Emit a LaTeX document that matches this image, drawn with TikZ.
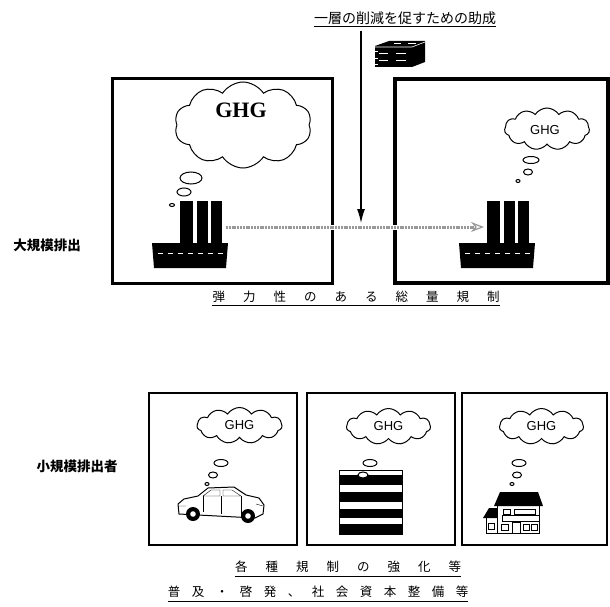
\documentclass[tikz,border=0pt]{standalone}
\usepackage{fontspec}
\setmainfont{Liberation Sans}
\newfontfamily\jp{Noto Sans CJK JP}
\newfontfamily\ghgserif{Liberation Serif}
\usetikzlibrary{shapes.symbols,shapes.geometric,arrows.meta}
\tikzset{
  >=latex,
}
\tikzstyle{bigbox}=[draw,line width=3.5pt]
\tikzstyle{smallbox}=[draw,line width=1.2pt]
\tikzstyle{puff}=[cloud,draw,line width=1pt,cloud puffs=11,cloud puff arc=115,aspect=2.2,inner sep=0pt]
\tikzstyle{bubble}=[ellipse,draw,line width=1pt,fill=white,inner sep=0pt]
\tikzstyle{sidelabel}=[font=\jp\bfseries\fontsize{13.5}{15}\selectfont]
\tikzstyle{ruletext}=[font=\jp\fontsize{12.5}{14}\selectfont,inner sep=0pt]
\tikzstyle{ghg}=[font=\fontsize{13}{15}\selectfont]
\tikzstyle{gapcut}=[white,line width=5pt]
\tikzstyle{emission}=[gray!80,line width=3pt,dash pattern=on 2pt off 0.8pt,-{Stealth[open,length=13pt,width=10pt,line width=1.2pt]}]
\newcommand{\gap}[1]{\hspace{#1}}
% chimneys and base, origin at the foot of the left chimney
\newcommand{\smokestack}[2]{%
  \begin{scope}[shift={(#1,#2)}]
    \fill (0,0) rectangle (13,-42);
    \fill (17,0) rectangle (28,-42);
    \fill (31,0) rectangle (42,-42);
    \fill (-28,0) -- (48,0) -- (46,25) -- (-26,25) -- cycle;
    \draw[white,thick,dash pattern=on 5pt off 5pt] (-22,10) -- (44,10);
  \end{scope}}

\begin{document}
\begin{tikzpicture}[x=1pt,y=-1pt]
    \useasboundingbox (0,0) rectangle (610,607);

    % subsidy heading and arrow
    \node[ruletext,font=\jp\fontsize{14}{16}\selectfont] (grant) at (405,18) {一層の削減を促すための助成};
    \draw[thick] ([yshift=-2pt]grant.south west) -- ([yshift=-2pt]grant.south east);
    \begin{scope}[shift={(372,41)}]
      \fill (3,5) -- (17,0) -- (53,0) -- (53,21) -- (40,26) -- (3,26) -- cycle;
      \draw[white,line width=0.6pt] (3,6) -- (40,6) -- (53,1);
      \draw[white,line width=1pt] (7,13) -- (16,13) (24,13) -- (34,13) (7,20) -- (16,20) (24,20) -- (34,20);
      \draw[white,line width=1pt] (22,3) -- (29,3) (36,3) -- (44,3);
      \draw[white,line width=0.5pt] (3,10) -- (6,10) (3,17) -- (6,17) (3,23) -- (6,23);
    \end{scope}

    % large emitters
    \node[sidelabel] (large) at (47,245) {大規模排出};
    \node[bigbox,minimum width=220pt,minimum height=205pt] (boxA) at (222.5,181) {};
    \node[bigbox,minimum width=213pt,minimum height=204pt] (boxB) at (501.5,181) {};

    \node[puff,cloud puffs=10,minimum width=137pt,minimum height=86pt] (cloudA) at (243,125) {};
    \node[font=\ghgserif\bfseries\fontsize{22}{24}\selectfont] (ghgA) at (241,110) {GHG};
    \node[bubble,minimum width=22pt,minimum height=12pt] (bA1) at (191,178) {};
    \node[bubble,minimum width=14pt,minimum height=8pt] (bA2) at (184,192) {};
    \node[bubble,minimum width=5pt,minimum height=3pt] (bA3) at (172,205) {};
    \smokestack{180}{243}

    \node[puff,minimum width=85pt,minimum height=42pt] (cloudB) at (547,129) {};
    \node[ghg] (ghgB) at (545,130) {GHG};
    \node[bubble,minimum width=16pt,minimum height=7pt] (bB1) at (531,160) {};
    \node[bubble,minimum width=9pt,minimum height=6pt] (bB2) at (528,172) {};
    \node[bubble,minimum width=4pt,minimum height=3pt] (bB3) at (518,181) {};
    \smokestack{487}{243}

    % traded emissions
    \coordinate (src) at (226,227);
    \coordinate (dst) at (484,227);
    \draw[gapcut] (src) -- (dst);
    \draw[emission] (src) -- (dst);
    \coordinate (grantTop) at (361,31);
    \coordinate (grantEnd) at (361,223);
    \draw[line width=1.2pt,-{Latex[length=14pt,width=8pt]}] (grantTop) -- (grantEnd);

    \node[ruletext] (capTrade) at (356,297) {弾\gap{18pt}力\gap{18pt}性\gap{18pt}の\gap{18pt}あ\gap{18pt}る\gap{18pt}総\gap{18pt}量\gap{18pt}規\gap{18pt}制};
    \draw[line width=1pt] ([yshift=-3pt]capTrade.south west) -- ([yshift=-3pt]capTrade.south east);

    % small emitters
    \node[sidelabel] (small) at (77,466) {小規模排出者};
    \node[smallbox,minimum width=148pt,minimum height=152pt] (boxC) at (223,469) {};
    \node[smallbox,minimum width=148pt,minimum height=152pt] (boxD) at (381,469) {};
    \node[smallbox,minimum width=145pt,minimum height=152pt] (boxE) at (534.5,469) {};

    \node[puff,ghg,minimum width=85pt,minimum height=36pt] (cloudC) at (239.5,425.5) {GHG};
    \node[bubble,minimum width=14pt,minimum height=7pt] (bC1) at (221,463) {};
    \node[bubble,minimum width=9pt,minimum height=6pt] (bC2) at (213,475) {};
    \node[bubble,minimum width=4pt,minimum height=3pt] (bC3) at (207,484) {};

    \node[puff,ghg,minimum width=84pt,minimum height=36pt] (cloudD) at (388.5,426.5) {GHG};
    \node[puff,ghg,minimum width=84pt,minimum height=36pt] (cloudE) at (541.5,426.5) {GHG};

    % car
    \draw[line width=1pt,fill=white,line join=round] (179,514) -- (178,504) -- (184,499) -- (198,496) -- (208,488) -- (234,487) -- (246,495) -- (259,498) -- (264,505) -- (263,514) -- (255,518) -- cycle;
    \draw (203,496) -- (211,490) -- (220,490) -- (220,496) -- cycle;
    \draw (223,490) -- (232,490) -- (241,496) -- (223,496) -- cycle;
    \draw (221,496) -- (221,514) (203,496) -- (203,512) (241,496) -- (241,515);
    \draw (179,506) -- (186,506) (256,504) -- (263,506);
    \fill (193,514) circle (7pt) (248,516) circle (7pt);
    \fill[white] (193,514) circle (2.8pt) (248,516) circle (2.8pt);

    % office building
    \draw[thick] (339,470) rectangle (402,534);
    \foreach \t/\b in {475/485,492/502,509/518,524/534}
      \fill (339,\t) rectangle (402,\b);
    \node[bubble,minimum width=14pt,minimum height=7pt] (bD1) at (370,463) {};
    \node[bubble,minimum width=10pt,minimum height=6pt] (bD2) at (363,475) {};

    % house
    \node[bubble,minimum width=14pt,minimum height=7pt] (bE1) at (519,463) {};
    \node[bubble,minimum width=9pt,minimum height=6pt] (bE2) at (517,475) {};
    \node[bubble,minimum width=4pt,minimum height=3pt] (bE3) at (512,484) {};
    \draw[thick,fill=white] (486,517) rectangle (498,533);
    \fill (483,518) -- (498,518) -- (498,508) -- (489,508) -- cycle;
    \draw[thick,fill=white] (497,505) rectangle (539,533);
    \fill (494,506) -- (543,506) -- (538,492) -- (500,492) -- cycle;
    \draw (503,509) rectangle (510,514) (514,509) rectangle (535,514);
    \draw (502,515) rectangle (539,521);
    \draw (488,523) rectangle (494,529) (501,524) rectangle (508,530);
    \draw (512,522) rectangle (520,533);
    \draw (523,524) rectangle (529,530) (531,524) rectangle (537,530);

    % measures
    \node[ruletext] (rules) at (348,567) {各\gap{18pt}種\gap{18pt}規\gap{18pt}制\gap{18pt}の\gap{18pt}強\gap{18pt}化\gap{18pt}等};
    \draw[line width=1pt] ([yshift=-3pt]rules.south west) -- ([yshift=-3pt]rules.south east);
    \node[ruletext] (spread) at (318,592) {普\gap{11.5pt}及\gap{11.5pt}・\gap{11.5pt}啓\gap{11.5pt}発\gap{11.5pt}、\gap{11.5pt}社\gap{11.5pt}会\gap{11.5pt}資\gap{11.5pt}本\gap{11.5pt}整\gap{11.5pt}備\gap{11.5pt}等};
    \draw[line width=1pt] ([yshift=-3pt]spread.south west) -- ([yshift=-3pt]spread.south east);
\end{tikzpicture}
\end{document}
